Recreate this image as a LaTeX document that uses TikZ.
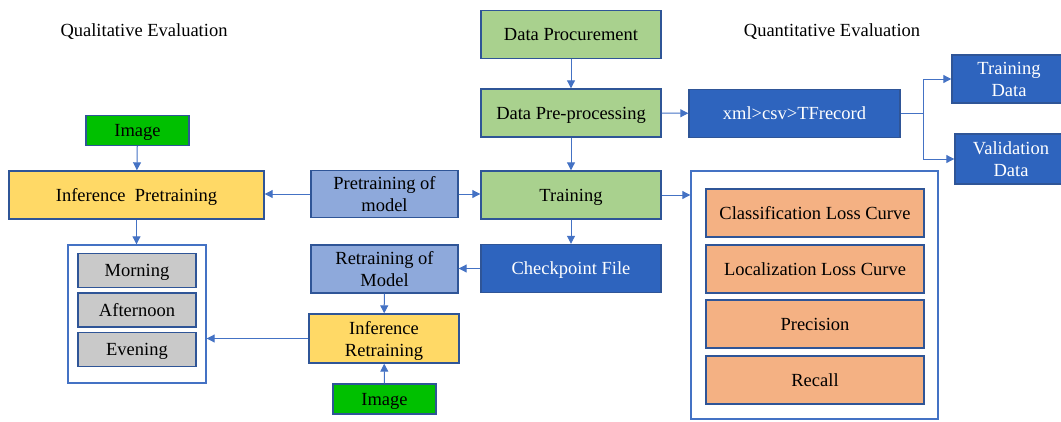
\documentclass[tikz,border=0pt]{standalone}
\usepackage{fontspec}
\setmainfont{Liberation Serif}
\usepackage{xcolor}
\usetikzlibrary{arrows.meta,positioning,calc}

\definecolor{edgeblue}{HTML}{2F5597}
\definecolor{arrowblue}{HTML}{4472C4}
\definecolor{stepgreen}{HTML}{A9D18E}
\definecolor{imggreen}{HTML}{00C000}
\definecolor{infyellow}{HTML}{FFD966}
\definecolor{modelblue}{HTML}{8EA9DB}
\definecolor{darkblue}{HTML}{2E64BE}
\definecolor{timegray}{HTML}{C9C9C9}
\definecolor{metricorange}{HTML}{F4B183}

\begin{document}
\begin{tikzpicture}[
    x=1pt, y=-1pt,
    every node/.style={font=\fontsize{18.5}{22}\selectfont, align=center, inner sep=0pt, text depth=0pt},
    box/.style={rectangle, draw=edgeblue, line width=1.4pt},
    stepbox/.style={box, fill=stepgreen, minimum width=180pt, minimum height=48pt},
    imgbox/.style={box, fill=imggreen, minimum width=103pt, minimum height=30pt},
    infbox/.style={box, fill=infyellow, minimum height=48pt},
    modelbox/.style={box, fill=modelblue, minimum width=147pt, minimum height=47pt},
    filebox/.style={box, fill=darkblue, text=white, minimum height=48pt},
    timebox/.style={box, fill=timegray, minimum width=118pt, minimum height=34pt},
    metricbox/.style={box, fill=metricorange, minimum width=218pt, minimum height=48pt},
    group/.style={rectangle, draw=arrowblue, line width=1.4pt, fill=white},
    arr/.style={draw=arrowblue, line width=1pt, -{Triangle[length=8pt,width=8pt]}}
]
    \useasboundingbox (0,0) rectangle (1061,421);

    % section titles
    \node (qualtitle) at (144,30) {Qualitative Evaluation};
    \node (quanttitle) at (832,30) {Quantitative Evaluation};

    % main pipeline
    \node [stepbox] (proc) at (571,34.5) {Data Procurement};
    \node [stepbox] (prep) at (571,113) {Data Pre-processing};
    \node [stepbox] (train) at (571,195) {Training};
    \node [filebox, minimum width=180pt] (ckpt) at (571,268.5) {Checkpoint File};

    % record conversion
    \node [filebox, minimum width=211pt] (record) at (794.5,113.5) {xml>csv>TFrecord};
    \node [filebox, minimum width=114pt] (trdata) at (1009,79) {Training\\Data};
    \node [filebox, minimum width=112pt, minimum height=50pt] (valdata) at (1011,159) {Validation\\Data};

    % quantitative evaluation
    \node [group, minimum width=247pt, minimum height=248pt] (quantbox) at (814.5,295) {};
    \node [metricbox] (clsloss) at (815,213) {Classification Loss Curve};
    \node [metricbox] (locloss) at (815,269) {Localization Loss Curve};
    \node [metricbox] (precision) at (815,324) {Precision};
    \node [metricbox] (recall) at (815,380) {Recall};

    % qualitative evaluation
    \node [imgbox] (imgpre) at (137.5,130.5) {Image};
    \node [infbox, minimum width=255pt] (infpre) at (136.5,195) {Inference\ \ Pretraining};
    \node [modelbox] (pretrain) at (384.5,194) {Pretraining of\\model};
    \node [group, minimum width=138pt, minimum height=138pt] (qualbox) at (137,314) {};
    \node [timebox] (morning) at (137,270.5) {Morning};
    \node [timebox] (afternoon) at (137,310) {Afternoon};
    \node [timebox] (evening) at (137,349.5) {Evening};
    \node [modelbox, minimum height=48pt] (retrain) at (384.5,269) {Retraining of\\Model};
    \node [infbox, minimum width=150pt, minimum height=49pt] (infre) at (384,338.5) {Inference\\Retraining};
    \node [imgbox] (imgre) at (384.5,399) {Image};

    % connectors
    \draw [arr] (proc) -- (prep);
    \draw [arr] (prep) -- (train);
    \draw [arr] (train) -- (ckpt);
    \draw [arr] (prep) -- (record);
    \draw [arr] (train.east) -- (quantbox.west |- train.east);
    \coordinate (split) at ($(record.east)+(23,0)$);
    \draw [draw=arrowblue, line width=1pt] (record.east) -- (split);
    \draw [arr] (split) |- (trdata.west);
    \draw [arr] (split) |- (valdata.west);
    \draw [arr] (pretrain.west) -- (infpre.east |- pretrain.west);
    \draw [arr] (pretrain.east) -- (train.west |- pretrain.east);
    \draw [arr] (imgpre) -- (infpre);
    \draw [arr] (infpre) -- (qualbox.north -| infpre.south);
    \draw [arr] (ckpt.west) -- (retrain.east |- ckpt.west);
    \draw [arr] (retrain) -- (infre);
    \draw [arr] (imgre) -- (infre);
    \draw [arr] (infre.west) -- (qualbox.east |- infre.west);
\end{tikzpicture}
\end{document}
